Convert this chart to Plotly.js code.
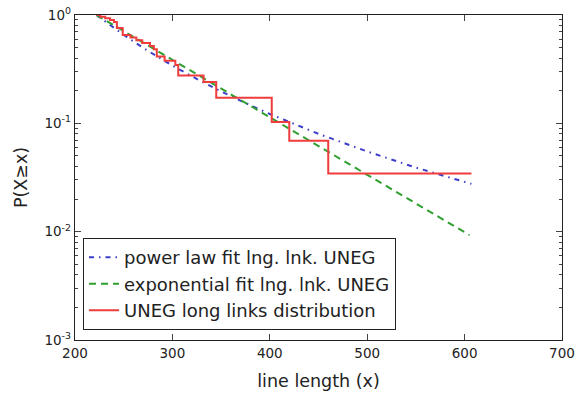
<!DOCTYPE html>
<html>
<head>
<meta charset="utf-8">
<script src="https://cdn.plot.ly/plotly-3.0.1.min.js"></script>
<style>html,body{margin:0;padding:0;background:#fff;}#chart{width:576px;height:396px;}</style>
</head>
<body>
<div id="chart"></div>
<script>
// Empirical CCDF (step) of UNEG long links
const stepX = [222, 226, 231, 236, 240, 243, 249, 257, 263, 269, 277, 281, 284, 292, 303, 306, 332, 345, 402, 420, 460, 607];
const stepP = [1.0, 0.966, 0.931, 0.897, 0.862, 0.759, 0.655, 0.621, 0.586, 0.552, 0.517, 0.483, 0.414, 0.379, 0.345, 0.276, 0.241, 0.172, 0.103, 0.069, 0.0345, 0.0345];

// Power law fit
const powX = [222, 236, 250, 275, 300, 325, 350, 375, 400, 450, 500, 550, 607];
const powP = [1.0, 0.804, 0.655, 0.466, 0.341, 0.257, 0.197, 0.154, 0.122, 0.080, 0.055, 0.039, 0.0276];

// Exponential fit
const expX = [222, 400, 605];
const expP = [1.0, 0.114, 0.0093];

const xTicks = [200, 300, 400, 500, 600, 700];
const yTicks = [1, 0.1, 0.01, 0.001];
const yTickText = ['10<sup>0</sup>', '10<sup>-1</sup>', '10<sup>-2</sup>', '10<sup>-3</sup>'];
const seriesNames = ['power law fit lng. lnk. UNEG', 'exponential fit lng. lnk. UNEG', 'UNEG long links distribution'];

const minorVals = [];
for (let e = -3; e < 0; e++) for (let m = 2; m <= 9; m++) minorVals.push(m * Math.pow(10, e));

const font = 'DejaVu Sans, Bitstream Vera Sans, sans-serif';
const traces = [
  {x: powX, y: powP, mode: 'lines', name: seriesNames[0],
   line: {color: '#3d3dc8', width: 2, dash: '5px,5px,1.5px,5px'}},
  {x: expX, y: expP, mode: 'lines', name: seriesNames[1],
   line: {color: '#2f9f2f', width: 2, dash: '7px,5px'}},
  {x: stepX, y: stepP, mode: 'lines', name: seriesNames[2],
   line: {color: '#f03c3c', width: 2, shape: 'hv'}}
];

const layout = {
  width: 576, height: 396,
  margin: {l: 75, r: 14, t: 15, b: 56},
  paper_bgcolor: '#fff', plot_bgcolor: '#fff',
  font: {family: font, color: '#222', size: 13.5},
  showlegend: true,
  legend: {x: 0.016, y: 0.031, xanchor: 'left', yanchor: 'bottom',
    bordercolor: '#222', borderwidth: 1.2, bgcolor: '#fff',
    font: {family: font, size: 18, color: '#222'},
    traceorder: 'normal'},
  xaxis: {range: [200, 700], tickvals: xTicks, ticks: 'inside', ticklen: 6,
    showline: true, linecolor: '#222', linewidth: 1.3, mirror: 'allticks',
    showgrid: false, zeroline: false, tickfont: {size: 13.5},
    title: {text: 'line length (x)', font: {size: 17.5}, standoff: 15}},
  yaxis: {type: 'log', range: [-3, 0], tickvals: yTicks, ticktext: yTickText,
    ticks: 'inside', ticklen: 6, showline: true, linecolor: '#222', linewidth: 1.3,
    mirror: 'allticks', showgrid: false, zeroline: false, tickfont: {size: 13.5},
    minor: {tickvals: minorVals, ticks: 'inside', ticklen: 3, showgrid: false},
    title: {text: 'P(X≥x)', font: {size: 17.5}, standoff: 12}}
};

Plotly.newPlot('chart', traces, layout, {displayModeBar: false, staticPlot: true});
</script>
</body>
</html>
